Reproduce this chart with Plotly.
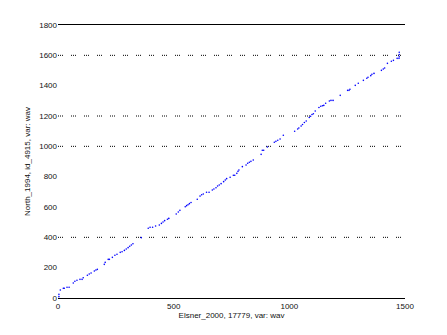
import plotly.graph_objects as go

# Data (Elsner_2000 vs North_1994 depths)
x_vals = [4, 4, 10, 23, 27, 39, 48, 66, 73, 82, 95, 104, 109, 127, 135, 143, 157, 164, 170,
          200, 204, 217, 222, 235, 246, 255, 269, 277, 287, 295, 303, 310, 317, 324, 360,
          390, 398, 409, 422, 438, 447, 454, 461, 473, 479, 511, 520, 527, 550, 556, 562,
          568, 575, 602, 614, 621, 628, 642, 653, 667, 674, 683, 690, 697, 705, 716, 723,
          729, 744, 758, 764, 773, 778, 782, 797, 813, 820, 827, 834, 844, 878, 883, 889,
          905, 935, 942, 950, 960, 974, 1023, 1036, 1041, 1051, 1057, 1065, 1073, 1086,
          1092, 1098, 1104, 1112, 1128, 1136, 1143, 1149, 1157, 1173, 1180, 1189, 1220,
          1252, 1258, 1262, 1285, 1298, 1320, 1335, 1340, 1352, 1357, 1366, 1398, 1406,
          1412, 1424, 1441, 1450, 1466, 1474, 1475, 1475, 1475]
y_vals = [9, 24, 53, 64, 64, 71, 71, 99, 110, 117, 123, 123, 134, 150, 158, 165, 178, 185, 189,
          222, 235, 255, 255, 268, 282, 288, 301, 305, 314, 323, 332, 341, 349, 358, 398,
          460, 466, 466, 475, 481, 492, 501, 510, 519, 525, 554, 567, 578, 602, 609, 615,
          622, 630, 651, 672, 681, 686, 697, 697, 712, 719, 727, 738, 745, 754, 767, 778,
          787, 796, 809, 809, 822, 835, 844, 866, 877, 888, 895, 901, 910, 947, 974, 974,
          996, 1027, 1033, 1040, 1048, 1073, 1099, 1114, 1121, 1134, 1144, 1157, 1167, 1190,
          1198, 1210, 1215, 1233, 1256, 1264, 1268, 1270, 1284, 1299, 1303, 1303, 1336,
          1369, 1369, 1376, 1402, 1416, 1435, 1449, 1455, 1466, 1475, 1481, 1501, 1510,
          1516, 1547, 1561, 1567, 1580, 1580, 1591, 1605, 1620]

x_ticks = [0, 500, 1000, 1500]
y_ticks = [0, 200, 400, 600, 800, 1000, 1200, 1400, 1600, 1800]
grid_values = [400, 1000, 1200, 1600]

x_title = "Elsner_2000, 17779, var: wav"
y_title = "North_1994, id_4915, var: wav"

fig = go.Figure()
fig.add_trace(go.Scatter(
    x=x_vals, y=y_vals, mode="markers",
    marker=dict(color="#0000ff", size=1.6, line=dict(width=0)),
    showlegend=False,
))

for g in grid_values:
    fig.add_shape(type="line", xref="paper", x0=0, x1=1, yref="y", y0=g, y1=g,
                  line=dict(color="black", width=1, dash="1px,1px,1px,1px,1px,8px"),
                  layer="below")

fig.update_layout(
    width=447, height=335,
    margin=dict(l=58, r=42, t=25, b=37),
    paper_bgcolor="white", plot_bgcolor="white",
    font=dict(family="Liberation Sans, Arial, sans-serif", size=8, color="#111111"),
    xaxis=dict(
        range=[0, 1500], tickvals=x_ticks, ticktext=[str(v) for v in x_ticks],
        showgrid=False, zeroline=False, showline=True, mirror=True,
        linecolor="black", linewidth=1, ticks="",
        title=dict(text=x_title, standoff=2, font=dict(size=8)),
    ),
    yaxis=dict(
        range=[0, 1800], tickvals=y_ticks, ticktext=[str(v) for v in y_ticks],
        showgrid=False, zeroline=False, showline=False, ticks="",
        title=dict(text=y_title, standoff=7, font=dict(size=8)),
    ),
)

fig.write_html("out.html")
